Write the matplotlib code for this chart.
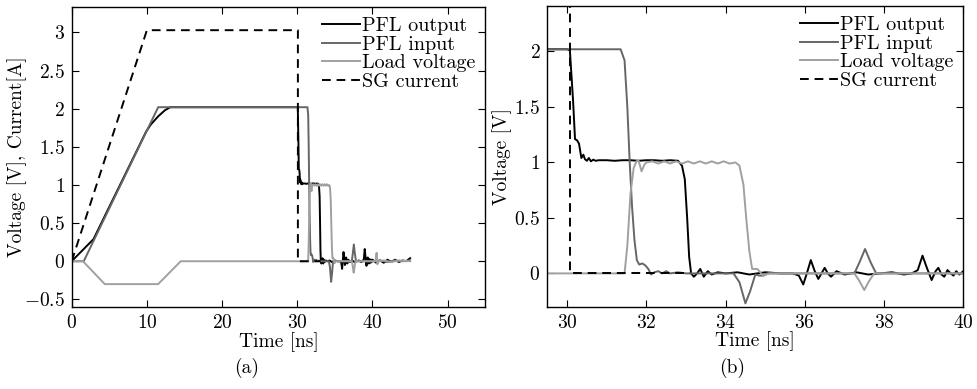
import matplotlib
matplotlib.use("Agg")
import matplotlib.pyplot as plt
from matplotlib.ticker import FuncFormatter

plt.rcParams['font.family'] = ['cmr10', 'DejaVu Serif']
plt.rcParams['mathtext.fontset'] = 'cm'
plt.rcParams['axes.formatter.use_mathtext'] = True
plt.rcParams['font.size'] = 14

# PFL output (black)
t_out = [0, 2.9, 9.9, 10.5, 11.5, 12.4, 13.1, 30.0, 30.07, 30.15, 30.2, 30.25, 30.3,
         30.36, 30.41, 30.45, 30.5, 30.55, 30.6, 30.66, 30.72, 30.8, 31.0, 31.2, 31.4,
         31.6, 31.8, 32.0, 32.2, 32.4, 32.6, 32.8, 32.9, 32.97, 33.03, 33.08, 33.13,
         33.2, 33.28, 33.36, 33.45, 33.55, 33.65, 33.8, 34.0, 34.3, 34.6, 35.0, 35.4,
         35.7, 35.85, 35.96, 36.05, 36.15, 36.25, 36.34, 36.42, 36.5, 36.58, 36.66,
         36.8, 37.0, 37.3, 37.6, 37.9, 38.2, 38.5, 38.7, 38.85, 38.97, 39.08, 39.2,
         39.3, 39.37, 39.45, 39.52, 39.6, 39.68, 39.75, 39.82, 39.9, 40.0, 40.5, 41.0,
         41.5, 42.0, 42.5, 43.0, 43.5, 44.0, 44.5, 45.0]
v_out = [0, 0.29, 1.70, 1.79, 1.90, 1.98, 2.02, 2.02, 2.01, 1.56, 1.21, 1.20, 1.17,
         1.04, 1.07, 1.03, 1.015, 1.04, 1.01, 1.025, 1.015, 1.02, 1.02, 1.015, 1.02,
         1.02, 1.015, 1.02, 1.02, 1.015, 1.02, 1.015, 0.97, 0.85, 0.5, 0.15, 0.0,
         -0.03, 0.0, 0.04, -0.03, 0.02, -0.01, 0.01, 0.0, 0.01, -0.01, 0.01, 0.0,
         0.0, -0.02, -0.10, 0.0, 0.12, 0.02, -0.05, 0.0, 0.05, 0.0, -0.03,
         0.02, -0.01, 0.01, -0.01, 0.0, 0.01, -0.01, 0.0, 0.03, 0.16, 0.05, -0.06,
         0.02, 0.05, -0.01, -0.03, 0.03, 0.0, -0.02, 0.02, -0.01, 0.02, -0.02, 0.01,
         -0.02, 0.02, -0.01, 0.02, -0.01, 0.01, 0.0, 0.04]

# PFL input (dark grey)
t_in = [0, 1.6, 11.5, 31.35, 31.45, 31.52, 31.58, 31.64, 31.7, 31.76, 31.82, 31.9,
        31.98, 32.05, 32.12, 32.2, 32.3, 32.4, 32.5, 32.6, 32.8, 33.0, 33.5, 34.0,
        34.2, 34.35, 34.5, 34.62, 34.75, 34.85, 34.95, 35.05, 35.2, 36.0, 37.0,
        37.25, 37.38, 37.52, 37.66, 37.8, 38.0, 39.0, 40.0, 41.0, 42.0, 43.0, 44.0, 45.0]
v_in = [0, 0, 2.02, 2.02, 1.92, 1.5, 1.0, 0.6, 0.3, 0.12, 0.08, 0.09,
        0.07, 0.04, -0.01, 0.01, 0.02, 0.0, 0.02, 0.0, 0.01, 0.0, 0.0, 0.0,
        0.0, -0.08, -0.27, -0.16, -0.01, -0.02, -0.02, 0.0, 0.0, 0.0, 0.0,
        0.0, 0.1, 0.22, 0.1, 0.0, 0.0, 0.0, 0.0, 0.01, -0.01, 0.01, 0.0, 0.01]

# Load voltage (light grey)
t_load = [0, 1.5, 4.4, 11.5, 14.5, 31.45, 31.52, 31.6, 31.68, 31.75, 31.8, 31.88,
          31.95, 32.0, 32.15, 32.3, 32.45, 32.6, 32.75, 32.9, 33.05, 33.2, 33.35,
          33.5, 33.65, 33.8, 33.95, 34.1, 34.25, 34.35, 34.45, 34.52, 34.6, 34.67,
          34.8, 34.95, 35.1, 36.0, 37.0, 37.25, 37.38, 37.5, 37.62, 37.75, 38.0,
          39.0, 40.0, 40.4, 40.55, 40.65, 40.8, 41.5, 42.5, 43.5, 45.0]
v_load = [0, 0, -0.3, -0.3, 0, 0, 0.25, 0.72, 0.95, 1.01, 1.02, 0.92,
          0.98, 1.0, 1.01, 0.99, 1.01, 0.99, 1.01, 0.99, 1.01, 0.99, 1.01,
          0.99, 1.01, 0.99, 1.01, 0.99, 1.0, 0.97, 0.8, 0.5, 0.2, 0.04,
          0.04, -0.02, 0.0, 0.0, 0.0, 0.0, -0.07, -0.15, -0.07, 0.0, 0.0,
          0.0, 0.0, 0.0, 0.11, -0.04, 0.0, 0.01, -0.01, 0.01, 0.0]

# SG current (dashed)
t_sg = [0, 10.0, 30.08, 30.08, 33.1]
v_sg = [0, 3.03, 3.03, 0, 0]

series = [
    (t_out, v_out, 'PFL output', '#000000', '-'),
    (t_in, v_in, 'PFL input', '#666666', '-'),
    (t_load, v_load, 'Load voltage', '#a0a0a0', '-'),
    (t_sg, v_sg, 'SG current', '#000000', '--'),
]

fmt = FuncFormatter(lambda x, pos: '$%g$' % x)

fig = plt.figure(figsize=(9.78, 3.89), dpi=100)
ax1 = fig.add_axes([0.0733, 0.2108, 0.4229, 0.7704])
ax2 = fig.add_axes([0.5596, 0.2116, 0.4254, 0.7730])

for ax in (ax1, ax2):
    for t, v, lab, col, ls in series:
        line, = ax.plot(t, v, color=col, linestyle=ls, linewidth=1.4, label=lab)
        if ls == '--':
            line.set_dashes((4.5, 3))
    ax.tick_params(direction='in', top=True, right=True, length=5, width=0.8, pad=5)
    for s in ax.spines.values():
        s.set_linewidth(1.0)
    ax.xaxis.set_major_formatter(fmt)
    ax.yaxis.set_major_formatter(fmt)
    ax.set_xlabel('Time [ns]', labelpad=0)
    ax.legend(loc='upper right', frameon=False, handlelength=1.9,
              handletextpad=0.1, labelspacing=0.02, borderaxespad=0.1,
              fontsize=14.5)

ax1.set_xlim(0, 55)
ax1.set_ylim(-0.6, 3.33)
ax1.set_xticks([0, 10, 20, 30, 40, 50])
ax1.set_yticks([-0.5, 0, 0.5, 1, 1.5, 2, 2.5, 3])
ax1.set_ylabel('Voltage [V], Current[A]')
ax1.yaxis.set_label_coords(-0.108, 0.5)

ax2.set_xlim(29.5, 40)
ax2.set_ylim(-0.3, 2.41)
ax2.set_xticks([30, 32, 34, 36, 38, 40])
ax2.set_yticks([0, 0.5, 1, 1.5, 2])
ax2.set_ylabel('Voltage [V]')
ax2.yaxis.set_label_coords(-0.086, 0.5)

fig.text(247 / 978, 1 - 368 / 389, '(a)', ha='center', va='center', fontsize=14)
fig.text(732 / 978, 1 - 368 / 389, '(b)', ha='center', va='center', fontsize=14)

fig.savefig('out.png', dpi=100)
